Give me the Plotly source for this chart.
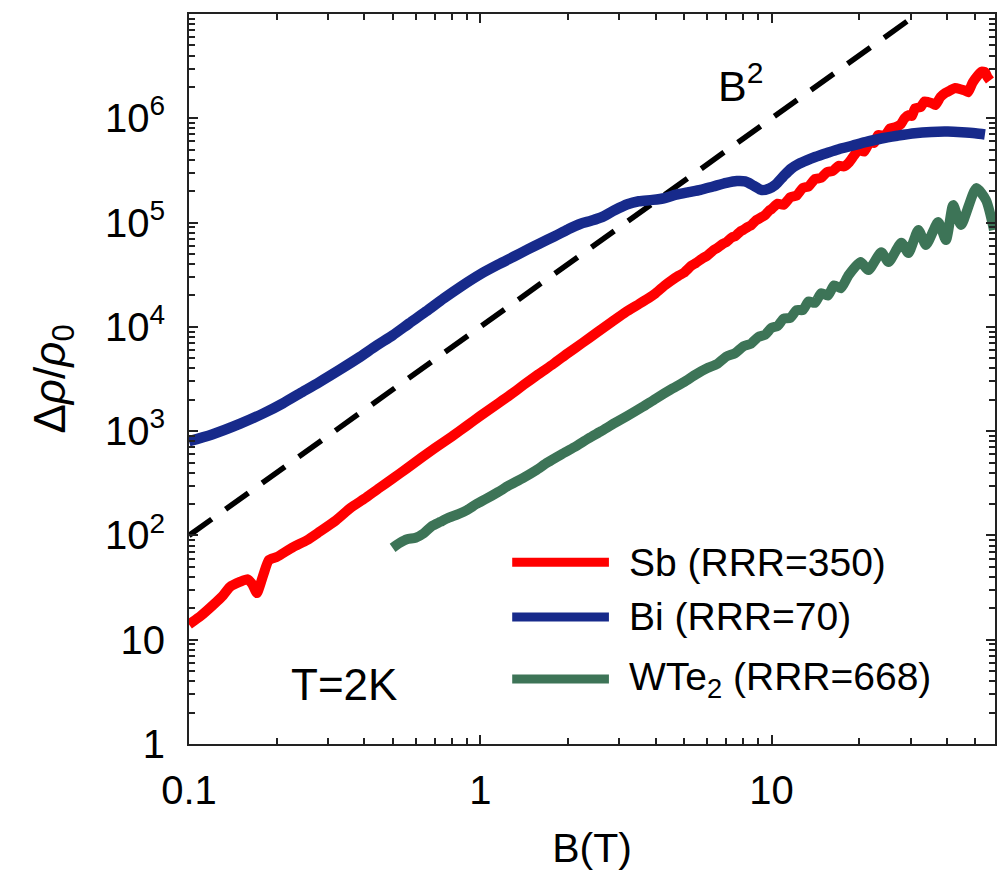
import plotly.graph_objects as go

# ---------------- data ----------------
sb_B = [0.100, 0.110, 0.121, 0.130, 0.138, 0.150, 0.159, 0.165, 0.171, 0.180, 0.188, 0.200, 0.227, 0.254,
        0.28, 0.32, 0.36, 0.40, 0.45, 0.50, 0.56, 0.63, 0.70, 0.80, 0.90, 1.00, 1.12, 1.26, 1.41, 1.58,
        1.78, 2.00, 2.24, 2.51, 2.82, 3.16, 3.5, 3.8, 4.0, 4.3, 4.5, 4.8, 5.0, 5.3, 5.5, 5.8, 6.0, 6.3,
        6.5, 6.8, 7.0, 7.3, 7.5, 7.8, 8.0, 8.3, 8.5, 8.8, 9.0, 9.3, 9.5, 9.8, 10.0, 10.5, 11.0, 11.6,
        12.2, 12.8, 13.4, 14.1, 14.8, 15.5, 16.2, 17.0, 17.7, 18.4, 19.2, 19.9, 20.8, 21.8, 22.5, 23.2,
        24.5, 25.5, 26.6, 27.8, 28.6, 29.5, 30.3, 31.1, 32.5, 33.5, 34.5, 35.5, 36.5, 38.0, 39.5, 41.0,
        42.7, 44.5, 46.0, 47.3, 49.0, 51.2, 52.5, 54.1, 55.0, 56.2]
sb_val = [14, 17, 21.5, 26, 32, 36, 38, 34, 28, 42, 58, 62, 77, 90,
          108, 140, 185, 225, 285, 350, 440, 560, 690, 890, 1130, 1400, 1750, 2200, 2780, 3500,
          4400, 5600, 7000, 8800, 11100, 13900, 16500, 19000, 21000, 25000, 27500, 31000, 33000, 38500, 41000, 45500, 48000, 54000,
          57000, 62500, 65000, 72000, 74000, 82000, 85000, 91000, 94000, 104000, 108000, 114000, 118000, 130000, 135000, 152000, 148000, 175000,
          182000, 215000, 222000, 262000, 268000, 305000, 312000, 350000, 345000, 375000, 440000, 495000, 480000, 600000, 580000, 690000,
          680000, 800000, 820000, 880000, 1000000, 1070000, 1050000, 1250000, 1280000, 1450000, 1430000, 1400000, 1340000, 1600000, 1750000, 1850000,
          1950000, 1900000, 1850000, 1780000, 2200000, 2600000, 2800000, 2760000, 2500000, 2300000]

bi_B = [0.10, 0.12, 0.15, 0.18, 0.21, 0.24, 0.28, 0.33, 0.38, 0.44, 0.50, 0.57, 0.65, 0.75, 0.86,
        1.00, 1.15, 1.30, 1.45, 1.60, 1.80, 2.00, 2.20, 2.40, 2.60, 2.90, 3.20, 3.50, 3.90, 4.30,
        4.70, 5.20, 5.70, 6.30, 7.00, 7.60, 8.10, 8.70, 9.25, 9.80, 10.3, 11.0, 11.7, 12.4, 13.2,
        14.1, 15.5, 17.0, 18.9, 21.0, 23.8, 27.0, 31.0, 35.3, 40.3, 45.0, 50.0, 54.0]
bi_val = [800, 930, 1180, 1480, 1850, 2300, 2950, 3900, 5000, 6600, 8300, 10800, 14000, 18800, 24500,
          32000, 39500, 47000, 55000, 63000, 74000, 86000, 97000, 104000, 112000, 132000, 150000, 160000, 165000, 172000,
          185000, 196000, 206000, 222000, 240000, 250000, 248000, 225000, 205000, 212000, 230000, 280000, 330000, 365000, 395000,
          425000, 465000, 505000, 545000, 590000, 640000, 680000, 720000, 740000, 745000, 735000, 720000, 700000]

wte_B = [0.50, 0.53, 0.56, 0.60, 0.64, 0.68, 0.73, 0.78, 0.84, 0.90, 0.97, 1.05, 1.15, 1.25, 1.40,
         1.55, 1.70, 1.90, 2.10, 2.35, 2.60, 2.90, 3.20, 3.60, 4.00, 4.50, 5.00, 5.50, 6.00, 6.50,
         7.00, 7.50, 8.00, 8.50, 9.00, 9.50, 10.0, 10.5, 11.0, 11.6, 12.2, 12.8, 13.4, 14.1, 14.8,
         15.6, 16.4, 17.3, 18.4, 20.2, 21.5, 23.8, 25.2, 27.9, 29.5, 31.9, 33.9, 37.3, 39.7, 42.0,
         44.7, 50.4, 54.5, 58.0]
wte_val = [76, 85, 92, 95, 105, 122, 135, 148, 160, 175, 200, 225, 260, 300, 355,
           420, 500, 600, 700, 850, 1000, 1200, 1400, 1700, 2050, 2500, 2950, 3500, 4000, 4400,
           5200, 5600, 6500, 6900, 8000, 8400, 9800, 10200, 12000, 12200, 14500, 14500, 17500, 17000, 21000,
           20000, 25000, 23500, 31400, 41800, 35000, 52000, 41800, 64000, 51000, 85000, 61000, 101000, 68000, 147000,
           95000, 214000, 164000, 85000]

b2_B = [0.1, 31.62]
b2_val = [1e2, 1e7]

x_ticks = [0.1, 1, 10]
x_ticktext = ["0.1", "1", "10"]
y_ticks = [1, 10, 1e2, 1e3, 1e4, 1e5, 1e6]
y_ticktext = ["1", "10", "10<sup>2</sup>", "10<sup>3</sup>", "10<sup>4</sup>", "10<sup>5</sup>", "10<sup>6</sup>"]

legend_names = ["Sb (RRR=350)", "Bi (RRR=70)", "WTe<sub>2</sub> (RRR=668)"]
colors = ["#ff0000", "#172a8b", "#3d7457"]

# ---------------- figure ----------------
FONT = "Liberation Sans, Arial, Helvetica, sans-serif"
fig = go.Figure()

fig.add_trace(go.Scatter(x=b2_B, y=b2_val, mode="lines",
                         line=dict(color="black", width=5.5, dash="28px,17px"), showlegend=False))
fig.add_trace(go.Scatter(x=wte_B, y=wte_val, mode="lines", name=legend_names[2],
                         line=dict(color=colors[2], width=10, shape="spline", smoothing=0.6), showlegend=False))
fig.add_trace(go.Scatter(x=sb_B, y=sb_val, mode="lines", name=legend_names[0],
                         line=dict(color=colors[0], width=10, shape="spline", smoothing=0.5), showlegend=False))
fig.add_trace(go.Scatter(x=bi_B, y=bi_val, mode="lines", name=legend_names[1],
                         line=dict(color=colors[1], width=10.5, shape="spline", smoothing=0.8), showlegend=False))

# manual legend (line samples + labels)
leg_y = [0.249, 0.174, 0.089]
for i in range(3):
    fig.add_shape(type="line", xref="paper", yref="paper", x0=0.401, x1=0.521, y0=leg_y[i], y1=leg_y[i],
                  line=dict(color=colors[i], width=9))
    fig.add_annotation(xref="paper", yref="paper", x=0.543, y=leg_y[i], text=legend_names[i],
                       showarrow=False, xanchor="left", yanchor="middle",
                       font=dict(family=FONT, size=39, color="black"))

fig.add_annotation(xref="paper", yref="paper", x=0.192, y=0.081, text="T=2K", showarrow=False,
                   xanchor="center", yanchor="middle", font=dict(family=FONT, size=44, color="black"))
fig.add_annotation(xref="paper", yref="paper", x=0.684, y=0.905, text="B<sup>2</sup>", showarrow=False,
                   xanchor="center", yanchor="middle", font=dict(family=FONT, size=43, color="black"))

minor_x = [k * 10 ** e for e in (-1, 0, 1) for k in range(2, 10) if k * 10 ** e < 60]
minor_y = [k * 10 ** e for e in range(0, 7) for k in range(2, 10)]

axis_common = dict(showgrid=False, zeroline=False, showline=True, linecolor="#222", linewidth=2,
                   mirror="allticks", ticks="inside", ticklen=9, tickwidth=1.8, tickcolor="#222",
                   tickfont=dict(family=FONT, size=40, color="black"))

fig.update_xaxes(type="log", range=[-1, 1.767], tickmode="array", tickvals=x_ticks, ticktext=x_ticktext,
                 minor=dict(tickmode="array", tickvals=minor_x, ticks="inside", ticklen=6, tickwidth=1.5, tickcolor="#222"),
                 title=dict(text="B(T)", font=dict(family=FONT, size=41, color="black"), standoff=22),
                 ticklabelstandoff=10, **axis_common)
fig.update_yaxes(type="log", range=[0, 7], tickmode="array", tickvals=y_ticks, ticktext=y_ticktext,
                 minor=dict(tickmode="array", tickvals=minor_y, ticks="inside", ticklen=6, tickwidth=1.5, tickcolor="#222"),
                 title=dict(text="Δ<i>ρ</i>/<i>ρ</i><sub>0</sub>", font=dict(family=FONT, size=44, color="black"), standoff=26),
                 ticklabelstandoff=14, **axis_common)

fig.update_layout(width=999, height=871, margin=dict(l=189, r=2, t=14, b=127),
                  paper_bgcolor="white", plot_bgcolor="white", showlegend=False)

fig.write_html("out.html")
